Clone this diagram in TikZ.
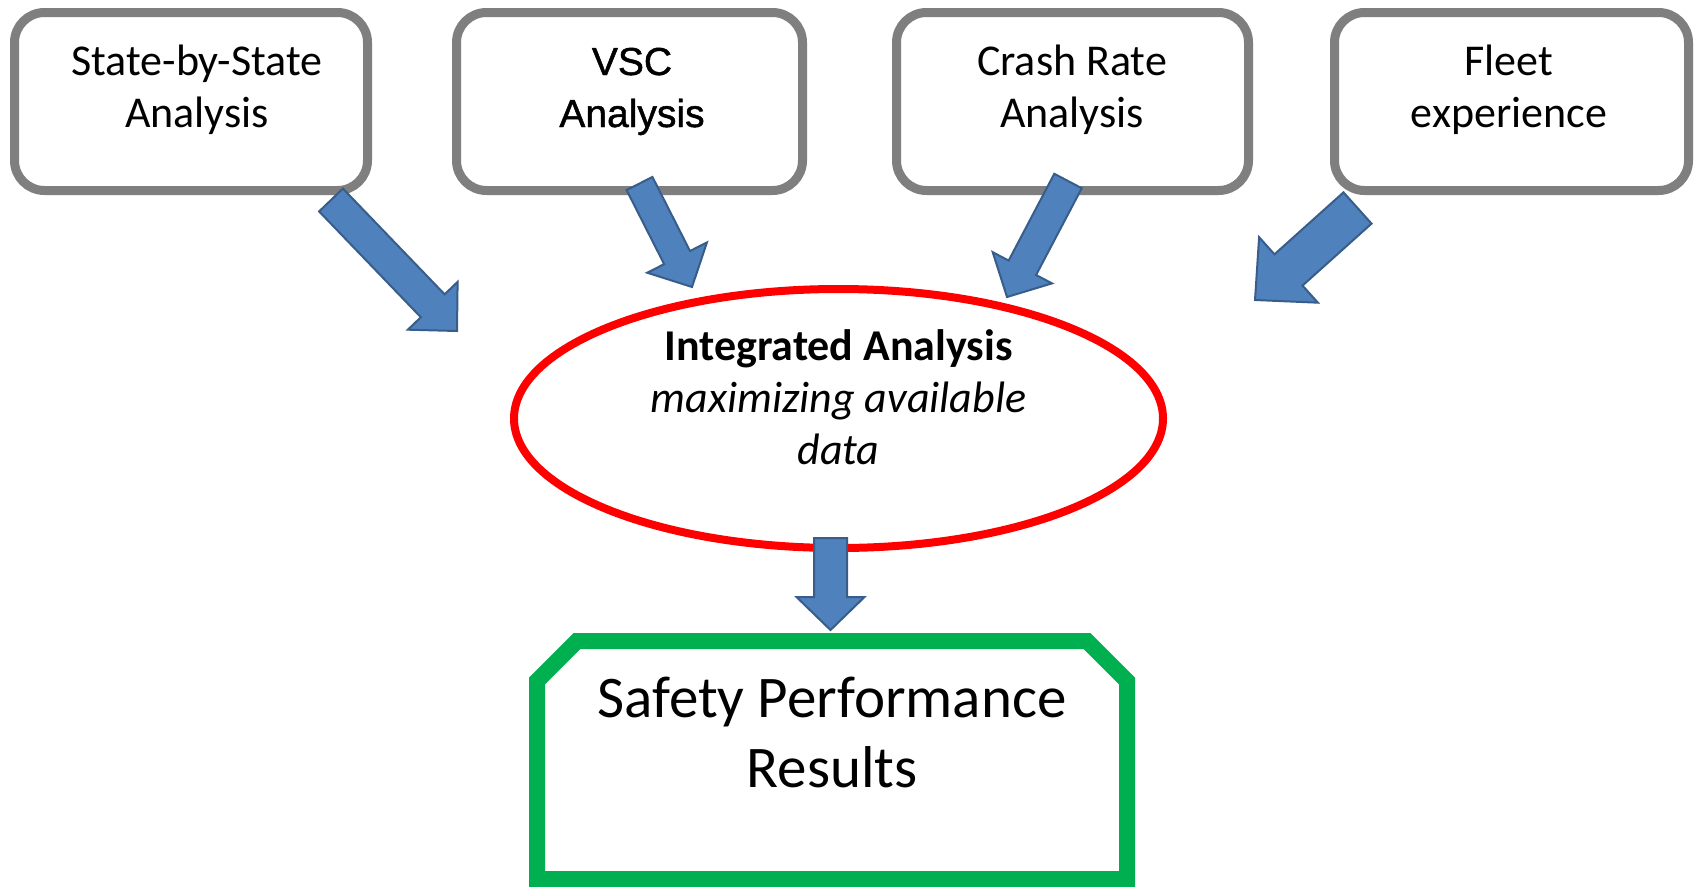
\documentclass[tikz,border=0pt]{standalone}
\usepackage{fontspec}
\setmainfont{Carlito}
\newfontfamily\arialfont[FakeBold=1.2]{Liberation Sans}
\usetikzlibrary{calc,shapes.geometric}
\definecolor{boxgray}{HTML}{7F7F7F}
\definecolor{arrowfill}{HTML}{4F81BD}
\definecolor{arrowline}{HTML}{385D8A}
\definecolor{ellred}{HTML}{FF0000}
\definecolor{resgreen}{HTML}{00B050}
\tikzset{
  srcbox/.style={draw=boxgray, line width=9pt, rounded corners=30pt, minimum height=178pt, inner sep=0pt, outer sep=0pt, fill=white},
  lbl/.style={anchor=base, inner sep=0pt, outer sep=0pt, font=\fontsize{44}{52}\selectfont},
  lblarial/.style={anchor=base, inner sep=0pt, outer sep=0pt, font=\arialfont\fontsize{39}{52}\selectfont},
  lblbig/.style={anchor=base, inner sep=0pt, outer sep=0pt, font=\fontsize{59}{70}\selectfont},
  integ/.style={ellipse, draw=ellred, line width=8pt, minimum width=649pt, minimum height=259pt, inner sep=0pt, outer sep=0pt, fill=white},
  resframe/.style={rectangle, draw=none, minimum width=590pt, minimum height=238pt, inner sep=0pt, outer sep=0pt},
  resline/.style={draw=resgreen, line width=16pt, line join=miter},
  blockarr/.style={fill=arrowfill, draw=arrowline, line width=2pt, line join=miter}
}
% tail, tip, shaft half width, head half width, head length
\newcommand{\blockarrow}[5]{%
  \coordinate (#2-h) at ($(#2)!#5!(#1)$);
  \draw[blockarr] ($(#1)!#3!90:(#2)$) -- ($(#2-h)!#3!90:(#2)$) -- ($(#2-h)!#4!90:(#2)$)
     -- (#2) -- ($(#2-h)!#4!-90:(#2)$) -- ($(#2-h)!#3!-90:(#2)$) -- ($(#1)!#3!-90:(#2)$) -- cycle;
}
\begin{document}
\begin{tikzpicture}[x=1pt, y=-1pt]
\useasboundingbox[fill=white] (0,0) rectangle (1696,886);

% source boxes
\node[srcbox, minimum width=353pt] (b1) at (191,101.5) {};
\node[srcbox, minimum width=346pt] (b2) at (629.5,101.5) {};
\node[srcbox, minimum width=352pt] (b3) at (1072.5,101.5) {};
\node[srcbox, minimum width=354pt] (b4) at (1511.5,101.5) {};

\node[lbl] (b1t1) at (197,75) {State-by-State};
\node[lbl] (b1t2) at (197,127) {Analysis};
\node[lblarial] (b2t1) at (632,75) {VSC};
\node[lblarial] (b2t2) at (632,127) {Analysis};
\node[lbl] (b3t1) at (1072,75) {Crash Rate};
\node[lbl] (b3t2) at (1072,127) {Analysis};
\node[lbl] (b4t1) at (1509,75) {Fleet};
\node[lbl] (b4t2) at (1509,127) {experience};

% integrated analysis ellipse
\node[integ] (ia) at (838.5,418.5) {};
\node[lbl] (iat1) at (838.5,360) {\textbf{Integrated Analysis}};
\node[lbl] (iat2) at (838.5,412) {\textit{maximizing available}};
\node[lbl] (iat3) at (838.5,464) {\textit{data}};

% results box
\node[resframe] (res) at (832,760) {};
\draw[resline] (res.south west) -- ($(res.north west)+(0,40)$) -- ($(res.north west)+(40,0)$)
  -- ($(res.north east)+(-40,0)$) -- ($(res.north east)+(0,40)$) -- (res.south east) -- cycle;
\node[lblbig] (rest1) at (832,717) {Safety Performance};
\node[lblbig] (rest2) at (832,787) {Results};

% arrow end points
\coordinate (a1s) at (331,200);   \coordinate (a1e) at (457,331);
\coordinate (a2s) at (639.5,183.5); \coordinate (a2e) at (692,287);
\coordinate (a3s) at (1068,181);  \coordinate (a3e) at (1007,297);
\coordinate (a4s) at (1357.5,208); \coordinate (a4e) at (1255,300);
\coordinate (a5s) at (830.5,538); \coordinate (a5e) at (830.5,630);

\blockarrow{a1s}{a1e}{16.5pt}{34.5pt}{35pt}
\blockarrow{a2s}{a2e}{14.5pt}{33.5pt}{33pt}
\blockarrow{a3s}{a3e}{15.5pt}{33.5pt}{33pt}
\blockarrow{a4s}{a4e}{21pt}{44pt}{45pt}
\blockarrow{a5s}{a5e}{16.5pt}{34pt}{33pt}
\end{tikzpicture}
\end{document}
